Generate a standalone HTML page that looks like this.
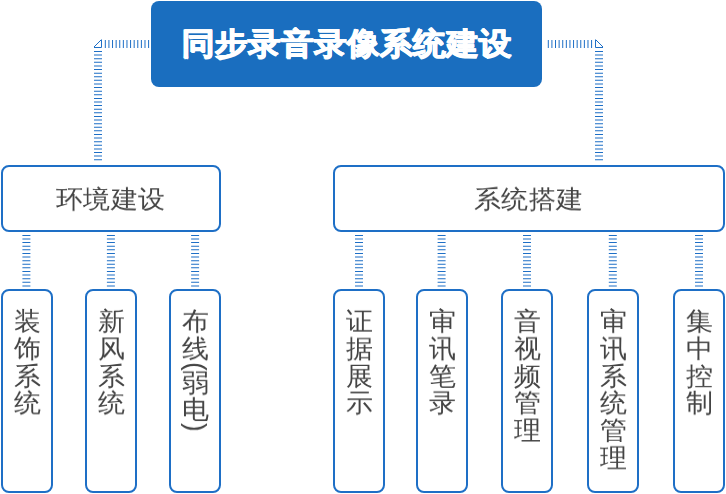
<!DOCTYPE html>
<html><head><meta charset="utf-8">
<style>
html,body{margin:0;padding:0;background:#fff;width:726px;height:494px;overflow:hidden;position:relative;font-family:"Liberation Sans",sans-serif;}
.title{position:absolute;left:151px;top:1px;width:391px;height:86px;background:#1a6ebf;border-radius:8px;color:#fff;font-weight:bold;font-size:33px;line-height:86px;text-align:center;}
.box{position:absolute;box-sizing:border-box;border:2px solid #1e6fc6;border-radius:8px;background:#fff;color:#444;}
.box span,.mid b{will-change:transform;}
.mid{top:164.5px;height:67px;font-size:27px;line-height:63px;text-align:center;}
.mid b{font-weight:normal;display:inline-block;transform:translateY(1.4px) scaleY(0.935);letter-spacing:0.6px;text-indent:0.6px;}
.sm{top:289.2px;height:204px;width:52px;}
.sm span{position:absolute;left:0;top:17.2px;width:48px;font-size:27px;line-height:28.75px;text-align:center;transform:scaleY(0.95);transform-origin:0 0;}
.sm span i{display:block;font-style:normal;height:7px;line-height:7px;transform:rotate(90deg);}
svg{position:absolute;left:0;top:0;}
.title b{display:inline-block;transform:scaleY(0.94);text-shadow:0.4px 0 0 #fff,-0.4px 0 0 #fff,0 0.4px 0 #fff,0 -0.4px 0 #fff;}
</style></head><body>
<svg width="726" height="494">
 <g stroke="#1e6fc6" stroke-width="8" fill="none" stroke-dasharray="1 2.607">
  <line x1="149.1" y1="44" x2="104" y2="44"/>
  <line x1="98" y1="51" x2="98" y2="160.5"/>
  <line x1="547.8" y1="44" x2="593" y2="44"/>
  <line x1="599" y1="51" x2="599" y2="160.5"/>
  <line x1="26.4" y1="234.9" x2="26.4" y2="286.5"/>
  <line x1="110.9" y1="234.9" x2="110.9" y2="286.5"/>
  <line x1="195.1" y1="234.9" x2="195.1" y2="286.5"/>
  <line x1="359" y1="234.9" x2="359" y2="286.5"/>
  <line x1="441.6" y1="234.9" x2="441.6" y2="286.5"/>
  <line x1="527" y1="234.9" x2="527" y2="286.5"/>
  <line x1="612.8" y1="234.9" x2="612.8" y2="286.5"/>
  <line x1="699" y1="234.9" x2="699" y2="286.5"/>
 </g>
 <g stroke="#1e6fc6" stroke-width="1" fill="none">
  <path d="M94 47.5 H101.5 V40 M94 47 L101.5 39.5"/>
  <path d="M603 47.5 H595.5 V40 M603 47 L595.5 39.5"/>
 </g>
</svg>
<div class="title"><b>同步录音录像系统建设</b></div>
<div class="box mid" style="left:0.7px;width:220px;"><b>环境建设</b></div>
<div class="box mid" style="left:332.6px;width:392px;"><b>系统搭建</b></div>
<div class="box sm" style="left:0.7px;"><span>装<br>饰<br>系<br>统<br></span></div>
<div class="box sm" style="left:84.7px;"><span>新<br>风<br>系<br>统<br></span></div>
<div class="box sm" style="left:169px;"><span>布<br>线<br><i>(</i>弱<br>电<br><i>)</i></span></div>
<div class="box sm" style="left:332.7px;"><span>证<br>据<br>展<br>示<br></span></div>
<div class="box sm" style="left:415.7px;"><span>审<br>讯<br>笔<br>录<br></span></div>
<div class="box sm" style="left:500.9px;"><span>音<br>视<br>频<br>管<br>理<br></span></div>
<div class="box sm" style="left:586.7px;"><span>审<br>讯<br>系<br>统<br>管<br>理<br></span></div>
<div class="box sm" style="left:672.5px;"><span>集<br>中<br>控<br>制<br></span></div>
</body></html>
